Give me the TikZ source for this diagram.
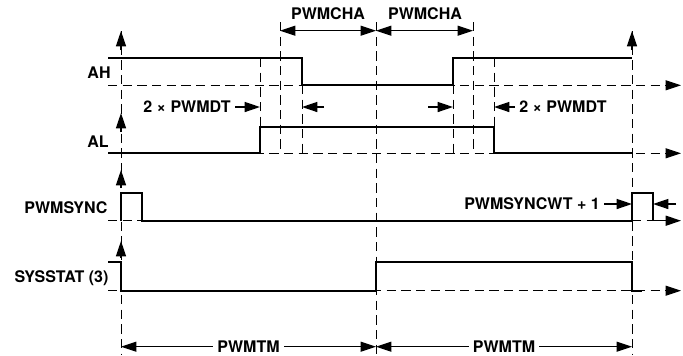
\documentclass[tikz,border=0pt]{standalone}
\usepackage{fontspec}
\setmainfont{TeX Gyre Heros}
\usetikzlibrary{arrows.meta}

\begin{document}
\begin{tikzpicture}[
x=0.75pt,y=-0.75pt,
signal/.style={line width=1.5pt},
guide/.style={line width=0.7pt,dash pattern=on 7pt off 4pt},
tip/.style={line width=1.1pt,-{Triangle[length=11.5pt,width=7.5pt]}},
span/.style={line width=0.8pt,{Triangle[length=11.5pt,width=7.5pt]}-{Triangle[length=11.5pt,width=7.5pt]}},
every node/.style={font=\bfseries\fontsize{12}{14}\selectfont,inner sep=1pt},
]
\useasboundingbox (0,0) rectangle (683,355);

\draw[guide] (121,31) -- (121,355);
\draw[guide] (376,22) -- (376,355);
\draw[guide] (632,31) -- (632,355);
\draw[guide] (280,22) -- (280,153);
\draw[guide] (473,22) -- (473,153);
\draw[guide] (260,58) -- (260,153);
\draw[guide] (494,58) -- (494,153);
\draw[guide] (302,85) -- (302,153);
\draw[guide] (453,85) -- (453,153);

\draw[guide,-{Triangle[length=11.5pt,width=7.5pt]}] (108,85.3) -- (681,85.3);
\draw[guide,-{Triangle[length=11.5pt,width=7.5pt]}] (108,153.3) -- (681,153.3);
\draw[guide,-{Triangle[length=11.5pt,width=7.5pt]}] (108,290.7) -- (681,290.7);
\draw[guide] (108,220.7) -- (142,220.7);
\draw[guide] (632,220.7) -- (653,220.7);

\draw[tip] (121,50) -- (121,31);
\draw[tip] (121,132) -- (121,113);
\draw[tip] (121,188) -- (121,170);
\draw[tip] (121,258) -- (121,241);
\draw[tip] (632,50) -- (632,31);

\draw[signal] (108,57.7) -- (302,57.7) -- (302,85.3) -- (453,85.3) -- (453,57.7) -- (632,57.7);
\draw[signal] (108,153.3) -- (260,153.3) -- (260,126.7) -- (494,126.7) -- (494,153.3) -- (632,153.3);
\draw[signal] (121,220.7) -- (121,193.3) -- (142,193.3) -- (142,220.7) -- (632,220.7) -- (632,193.3) -- (653,193.3) -- (653,220.7);
\draw[tip] (653,220.7) -- (681,220.7);
\draw[signal] (108,262.3) -- (121,262.3) -- (121,290.7) -- (376,290.7) -- (376,262.3) -- (632,262.3) -- (632,290.7) -- (642,290.7);

\node (ah) at (99,73) {AH};
\node (al) at (98,142) {AL};
\node[anchor=east] (sync) at (109,208) {PWMSYNC};
\node[anchor=east] (stat) at (110,278) {SYSSTAT (3)};

\node (cha1) at (328,14) {PWMCHA};
\node (cha2) at (425,14) {PWMCHA};
\draw[span] (280,30.7) -- (376,30.7);
\draw[span] (376,30.7) -- (473,30.7);

\node[anchor=east,inner xsep=3pt] (dtl) at (235,107) {2 × PWMDT};
\draw[tip] (dtl.east) -- (260,107);
\draw[tip] (324,107) -- (302,107);
\draw[tip] (428,107) -- (453,107);
\node[anchor=west,inner xsep=3pt] (dtr) at (515,107) {2 × PWMDT};
\draw[tip] (dtr.west) -- (494,107);

\node[anchor=east,inner xsep=3pt] (cwt) at (604,204) {PWMSYNCWT + 1};
\draw[tip] (cwt.east) -- (632,204);
\draw[tip] (676,204) -- (653,204);

\draw[span] (121,346.7) -- (376,346.7) node[midway,fill=white,inner xsep=3pt] (tm1) {PWMTM};
\draw[span] (376,346.7) -- (632,346.7) node[midway,fill=white,inner xsep=3pt] (tm2) {PWMTM};

\end{tikzpicture}
\end{document}
